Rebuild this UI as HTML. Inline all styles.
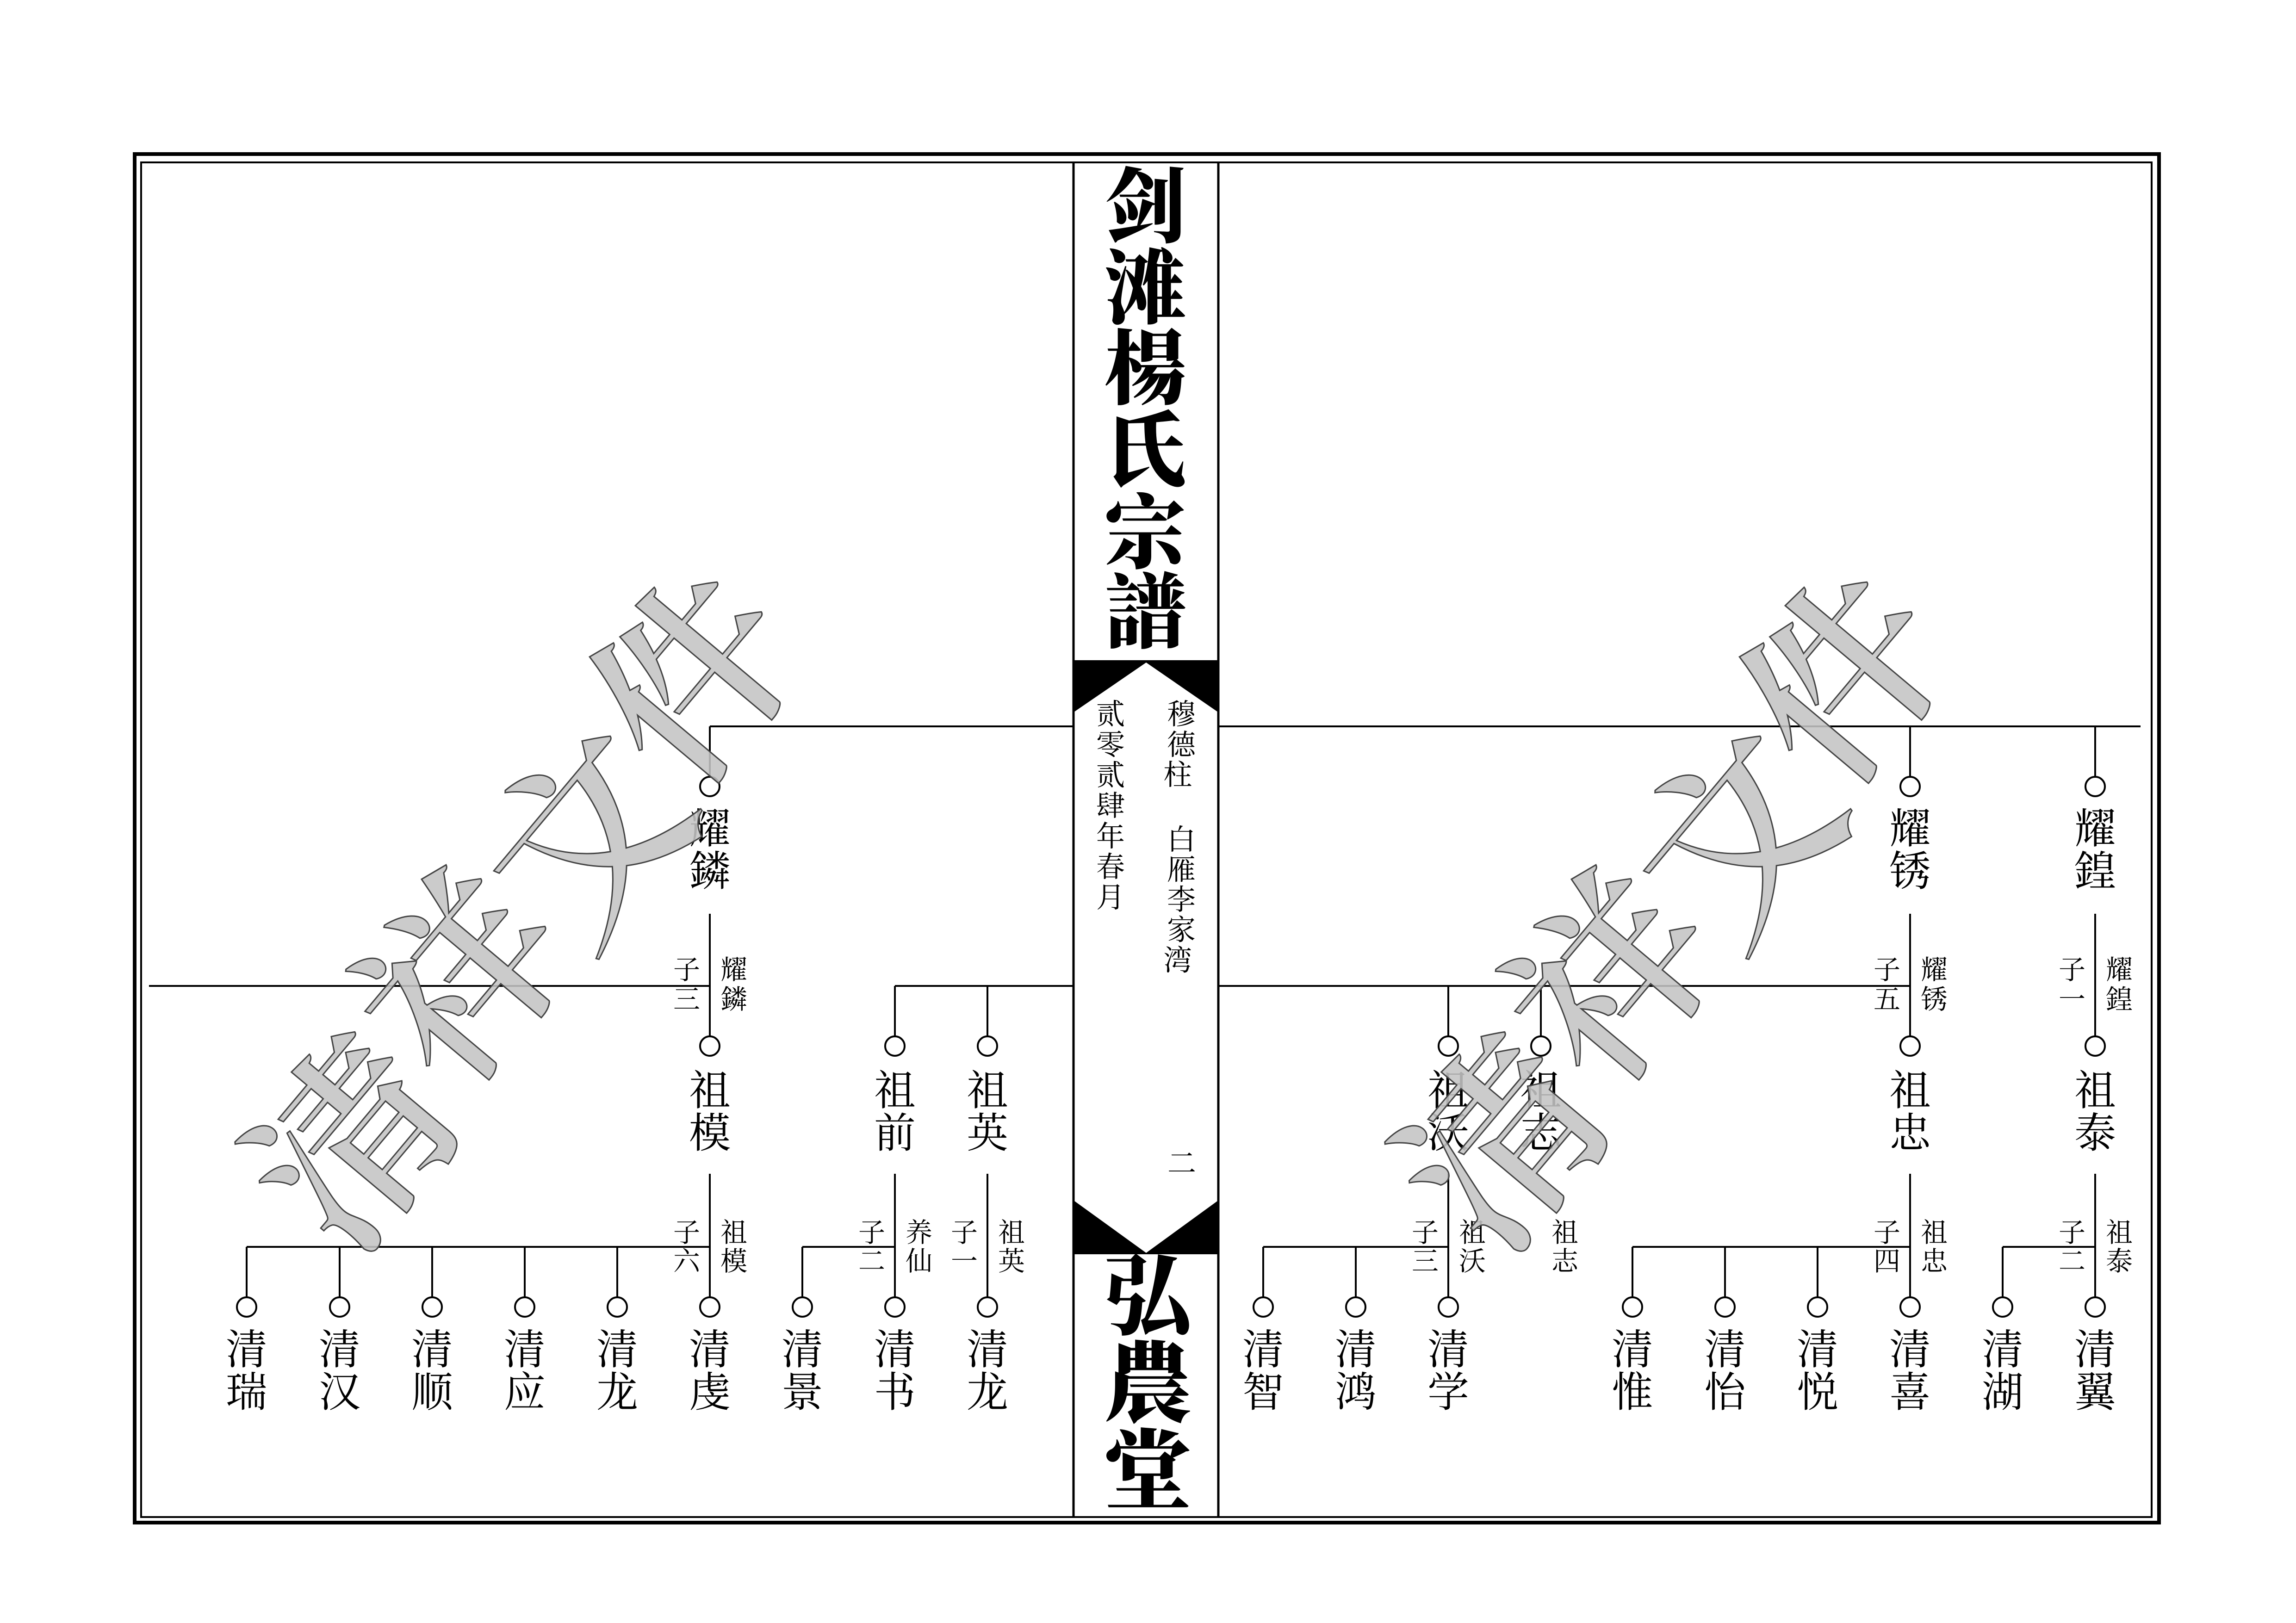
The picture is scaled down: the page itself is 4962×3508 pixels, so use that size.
<!DOCTYPE html>
<html><head><meta charset="utf-8">
<style>
html,body{margin:0;padding:0;background:#fff;}
svg{display:block;}
text{font-family:"Liberation Serif","Noto Serif CJK SC",serif;text-anchor:middle;dominant-baseline:central;fill:#000;}
.n{font-size:90px;}
.s{font-size:58px;}
.m{font-size:62px;}
.t{font-size:176px;font-weight:900;}
.b{font-size:190px;font-weight:900;}
.w{font-size:420px;font-weight:600;fill:#c4c4c4;fill-opacity:0.88;stroke:#444;stroke-width:3;}
</style></head>
<body>
<svg width="4962" height="3508" viewBox="0 0 4962 3508" xmlns="http://www.w3.org/2000/svg">
<rect x="0" y="0" width="4962" height="3508" fill="#fff"/>
<rect x="291" y="333" width="4375" height="2958" fill="none" stroke="#000" stroke-width="8"/>
<rect x="305" y="351" width="4345" height="2928" fill="none" stroke="#000" stroke-width="4"/>
<line x1="2320" y1="351" x2="2320" y2="3279" stroke="#000" stroke-width="5"/>
<line x1="2633" y1="351" x2="2633" y2="3279" stroke="#000" stroke-width="5"/>
<polygon points="2318,1427 2635,1427 2635,1541 2477,1432 2318,1541" fill="#000"/>
<polygon points="2318,2593 2477,2708 2635,2593 2635,2711 2318,2711" fill="#000"/>
<text class="t"><tspan x="2475" y="450">剑</tspan><tspan x="2475" y="626">滩</tspan><tspan x="2475" y="800">楊</tspan><tspan x="2475" y="977">氏</tspan><tspan x="2475" y="1155">宗</tspan><tspan x="2475" y="1327">譜</tspan></text>
<text class="b"><tspan x="2480" y="2806">弘</tspan><tspan x="2480" y="2995">農</tspan><tspan x="2480" y="3185">堂</tspan></text>
<text class="m"><tspan x="2553" y="1545">穆</tspan><tspan x="2553" y="1611">德</tspan><tspan x="2553" y="1676">柱</tspan>
<tspan x="2553" y="1816">白</tspan><tspan x="2553" y="1881">雁</tspan><tspan x="2553" y="1946">李</tspan><tspan x="2553" y="2011">家</tspan><tspan x="2553" y="2077">湾</tspan>
<tspan x="2554" y="2516">二</tspan></text>
<text class="m"><tspan x="2400" y="1545">贰</tspan><tspan x="2400" y="1611">零</tspan><tspan x="2400" y="1677">贰</tspan><tspan x="2400" y="1743">肆</tspan><tspan x="2400" y="1809">年</tspan><tspan x="2400" y="1875">春</tspan><tspan x="2400" y="1941">月</tspan></text>

<g stroke="#000" stroke-width="4" fill="none">
<path d="M1534 1570H2320M2633 1570H4626"/>
<path d="M1534 1570V1679M4128 1570V1679M4528 1570V1679"/>
<path d="M1534 1975V2240M4128 1975V2240M4528 1975V2240"/>
<path d="M322 2131H1534M1934 2131H2320M2633 2131H4128"/>
<path d="M1934 2131V2240M2134 2131V2240M3130 2131V2240M3330 2131V2240"/>
<path d="M1534 2537V2804M1934 2537V2804M2134 2537V2804M3130 2537V2804M4128 2537V2804M4528 2537V2804"/>
<path d="M533 2695H1534M1734 2695H1934M2730 2695H3130M3528 2695H4128M4328 2695H4528"/>
<path d="M533 2695V2804M734 2695V2804M934 2695V2804M1134 2695V2804M1334 2695V2804M1734 2695V2804M2730 2695V2804M2930 2695V2804M3528 2695V2804M3728 2695V2804M3928 2695V2804M4328 2695V2804"/>
<circle cx="1534" cy="1700" r="21"/><circle cx="4128" cy="1700" r="21"/><circle cx="4528" cy="1700" r="21"/>
<circle cx="1534" cy="2261" r="21"/><circle cx="1934" cy="2261" r="21"/><circle cx="2134" cy="2261" r="21"/><circle cx="3130" cy="2261" r="21"/><circle cx="3330" cy="2261" r="21"/><circle cx="4128" cy="2261" r="21"/><circle cx="4528" cy="2261" r="21"/>
<circle cx="533" cy="2825" r="21"/><circle cx="734" cy="2825" r="21"/><circle cx="934" cy="2825" r="21"/><circle cx="1134" cy="2825" r="21"/><circle cx="1334" cy="2825" r="21"/><circle cx="1534" cy="2825" r="21"/><circle cx="1734" cy="2825" r="21"/><circle cx="1934" cy="2825" r="21"/><circle cx="2134" cy="2825" r="21"/><circle cx="2730" cy="2825" r="21"/><circle cx="2930" cy="2825" r="21"/><circle cx="3130" cy="2825" r="21"/><circle cx="3528" cy="2825" r="21"/><circle cx="3728" cy="2825" r="21"/><circle cx="3928" cy="2825" r="21"/><circle cx="4128" cy="2825" r="21"/><circle cx="4328" cy="2825" r="21"/><circle cx="4528" cy="2825" r="21"/>
</g>

<text class="n"><tspan x="1534" y="1792">耀</tspan><tspan x="1534" y="1884">鏻</tspan></text>
<text class="n"><tspan x="4128" y="1792">耀</tspan><tspan x="4128" y="1884">锈</tspan></text>
<text class="n"><tspan x="4528" y="1792">耀</tspan><tspan x="4528" y="1884">鍠</tspan></text>
<text class="n"><tspan x="1534" y="2358">祖</tspan><tspan x="1534" y="2450">模</tspan></text>
<text class="n"><tspan x="1934" y="2358">祖</tspan><tspan x="1934" y="2450">前</tspan></text>
<text class="n"><tspan x="2134" y="2358">祖</tspan><tspan x="2134" y="2450">英</tspan></text>
<text class="n"><tspan x="3130" y="2358">祖</tspan><tspan x="3130" y="2450">沃</tspan></text>
<text class="n"><tspan x="3330" y="2358">祖</tspan><tspan x="3330" y="2450">志</tspan></text>
<text class="n"><tspan x="4128" y="2358">祖</tspan><tspan x="4128" y="2450">忠</tspan></text>
<text class="n"><tspan x="4528" y="2358">祖</tspan><tspan x="4528" y="2450">泰</tspan></text>
<text class="n"><tspan x="533" y="2918">清</tspan><tspan x="533" y="3010">瑞</tspan></text>
<text class="n"><tspan x="734" y="2918">清</tspan><tspan x="734" y="3010">汉</tspan></text>
<text class="n"><tspan x="934" y="2918">清</tspan><tspan x="934" y="3010">顺</tspan></text>
<text class="n"><tspan x="1134" y="2918">清</tspan><tspan x="1134" y="3010">应</tspan></text>
<text class="n"><tspan x="1334" y="2918">清</tspan><tspan x="1334" y="3010">龙</tspan></text>
<text class="n"><tspan x="1534" y="2918">清</tspan><tspan x="1534" y="3010">虔</tspan></text>
<text class="n"><tspan x="1734" y="2918">清</tspan><tspan x="1734" y="3010">景</tspan></text>
<text class="n"><tspan x="1934" y="2918">清</tspan><tspan x="1934" y="3010">书</tspan></text>
<text class="n"><tspan x="2134" y="2918">清</tspan><tspan x="2134" y="3010">龙</tspan></text>
<text class="n"><tspan x="2730" y="2918">清</tspan><tspan x="2730" y="3010">智</tspan></text>
<text class="n"><tspan x="2930" y="2918">清</tspan><tspan x="2930" y="3010">鸿</tspan></text>
<text class="n"><tspan x="3130" y="2918">清</tspan><tspan x="3130" y="3010">学</tspan></text>
<text class="n"><tspan x="3528" y="2918">清</tspan><tspan x="3528" y="3010">惟</tspan></text>
<text class="n"><tspan x="3728" y="2918">清</tspan><tspan x="3728" y="3010">怡</tspan></text>
<text class="n"><tspan x="3928" y="2918">清</tspan><tspan x="3928" y="3010">悦</tspan></text>
<text class="n"><tspan x="4128" y="2918">清</tspan><tspan x="4128" y="3010">喜</tspan></text>
<text class="n"><tspan x="4328" y="2918">清</tspan><tspan x="4328" y="3010">湖</tspan></text>
<text class="n"><tspan x="4528" y="2918">清</tspan><tspan x="4528" y="3010">翼</tspan></text>

<text class="s"><tspan x="1484" y="2096">子</tspan><tspan x="1484" y="2160">三</tspan><tspan x="1586" y="2096">耀</tspan><tspan x="1586" y="2160">鏻</tspan></text>
<text class="s"><tspan x="4078" y="2096">子</tspan><tspan x="4078" y="2160">五</tspan><tspan x="4180" y="2096">耀</tspan><tspan x="4180" y="2160">锈</tspan></text>
<text class="s"><tspan x="4478" y="2096">子</tspan><tspan x="4478" y="2160">一</tspan><tspan x="4580" y="2096">耀</tspan><tspan x="4580" y="2160">鍠</tspan></text>
<text class="s"><tspan x="1484" y="2664">子</tspan><tspan x="1484" y="2726">六</tspan><tspan x="1586" y="2664">祖</tspan><tspan x="1586" y="2726">模</tspan></text>
<text class="s"><tspan x="1884" y="2664">子</tspan><tspan x="1884" y="2726">二</tspan><tspan x="1986" y="2664">养</tspan><tspan x="1986" y="2726">仙</tspan></text>
<text class="s"><tspan x="2084" y="2664">子</tspan><tspan x="2084" y="2726">一</tspan><tspan x="2186" y="2664">祖</tspan><tspan x="2186" y="2726">英</tspan></text>
<text class="s"><tspan x="3080" y="2664">子</tspan><tspan x="3080" y="2726">三</tspan><tspan x="3182" y="2664">祖</tspan><tspan x="3182" y="2726">沃</tspan></text>
<text class="s"><tspan x="3382" y="2664">祖</tspan><tspan x="3382" y="2726">志</tspan></text>
<text class="s"><tspan x="4078" y="2664">子</tspan><tspan x="4078" y="2726">四</tspan><tspan x="4180" y="2664">祖</tspan><tspan x="4180" y="2726">忠</tspan></text>
<text class="s"><tspan x="4478" y="2664">子</tspan><tspan x="4478" y="2726">二</tspan><tspan x="4580" y="2664">祖</tspan><tspan x="4580" y="2726">泰</tspan></text>

<text class="w" transform="translate(772,2475) rotate(-50)" x="0" y="0">清</text>
<text class="w" transform="translate(1007,2118) rotate(-50)" x="0" y="0">祥</text>
<text class="w" transform="translate(1282,1812) rotate(-50)" x="0" y="0">文</text>
<text class="w" transform="translate(1510,1470) rotate(-50)" x="0" y="0">件</text>
<text class="w" transform="translate(3257,2475) rotate(-50)" x="0" y="0">清</text>
<text class="w" transform="translate(3492,2118) rotate(-50)" x="0" y="0">祥</text>
<text class="w" transform="translate(3767,1812) rotate(-50)" x="0" y="0">文</text>
<text class="w" transform="translate(3995,1470) rotate(-50)" x="0" y="0">件</text>
</svg>
</body></html>
